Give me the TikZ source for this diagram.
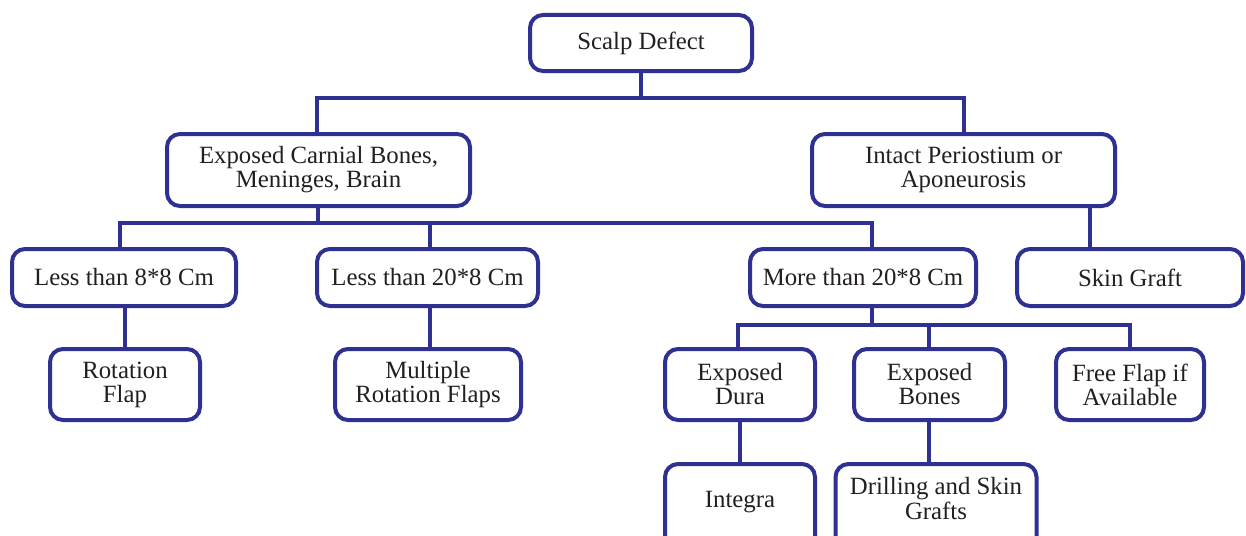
\documentclass[tikz,border=0pt]{standalone}
\usepackage{fontspec}
\setmainfont{Liberation Serif}
\definecolor{navy}{RGB}{46,49,146}
\definecolor{ink}{RGB}{35,31,32}
\begin{document}
\begin{tikzpicture}[x=1pt,y=-1pt,
  box/.style={draw=navy, line width=4pt, rounded corners=13pt, fill=white,
    align=center, inner sep=0pt, text=ink,
    font=\fontsize{24.8}{24}\selectfont},
  link/.style={draw=navy, line width=4pt}]
\useasboundingbox (0,0) rectangle (1246,535);
\clip (0,0) rectangle (1246,535);

% bus levels
\coordinate (busA) at (0,98);
\coordinate (busB) at (0,223);
\coordinate (busC) at (0,325);

% boxes
\node[box, minimum width=222pt, minimum height=56pt] (sd)  at (641,43)     {Scalp Defect};
\node[box, minimum width=303pt, minimum height=72pt] (ecb) at (318.5,170)  {Exposed Carnial Bones,\\Meninges, Brain};
\node[box, minimum width=303pt, minimum height=72pt] (ip)  at (963.5,170)  {Intact Periostium or\\Aponeurosis};
\node[box, minimum width=224pt, minimum height=57pt] (l88) at (124,277.5)  {Less than 8*8 Cm};
\node[box, minimum width=221pt, minimum height=57pt] (l208) at (427.5,277.5) {Less than 20*8 Cm};
\node[box, minimum width=226pt, minimum height=57pt] (m208) at (863,277.5) {More than 20*8 Cm};
\node[box, minimum width=226pt, minimum height=57pt] (sg)  at (1130,277.5) {Skin Graft};
\node[box, minimum width=150pt, minimum height=71pt] (rf)  at (125,384.5)  {Rotation\\Flap};
\node[box, minimum width=186pt, minimum height=71pt] (mrf) at (428,384.5)  {Multiple\\Rotation Flaps};
\node[box, minimum width=150pt, minimum height=71pt] (ed)  at (740,384.5)  {Exposed\\Dura};
\node[box, minimum width=151pt, minimum height=71pt] (eb)  at (929.5,384.5) {Exposed\\Bones};
\node[box, minimum width=148pt, minimum height=71pt] (ff)  at (1130,384.5) {Free Flap if\\Available};
% the last row runs past the lower edge of the page
\node[box, minimum width=150pt, minimum height=86pt] (int) at (740,507)
  {\raisebox{0pt}[0pt][0pt]{Integra}};
\node[box, minimum width=201pt, minimum height=86pt] (dr)  at (936,507)
  {\raisebox{-1.4pt}[0pt][0pt]{\begin{tabular}{@{}c@{}}Drilling and Skin\\Grafts\end{tabular}}};

% top level
\draw[link] (sd.south) -- (sd.south |- busA);
\draw[link] ([xshift=-1.5pt]ecb.north) -- ([xshift=-1.5pt]ecb.north |- busA)
  -- (ip.north |- busA) -- (ip.north);

% second level
\draw[link] ([xshift=-0.5pt]ecb.south) -- ([xshift=-0.5pt]ecb.south |- busB);
\draw[link] ([xshift=-4pt]l88.north) -- ([xshift=-4pt]l88.north |- busB)
  -- ([xshift=9pt]m208.north |- busB) -- ([xshift=9pt]m208.north);
\draw[link] ([xshift=2.5pt]l208.north) -- ([xshift=2.5pt]l208.north |- busB);
\draw[link] ([xshift=-40pt]sg.north) -- ([xshift=-40pt]sg.north |- ip.south);

% third level
\draw[link] ([xshift=1pt]l88.south) -- ([xshift=1pt]l88.south |- rf.north);
\draw[link] ([xshift=2.5pt]l208.south) -- ([xshift=2.5pt]l208.south |- mrf.north);
\draw[link] ([xshift=9pt]m208.south) -- ([xshift=9pt]m208.south |- busC);
\draw[link] ([xshift=-2pt]ed.north) -- ([xshift=-2pt]ed.north |- busC)
  -- (ff.north |- busC) -- (ff.north);
\draw[link] ([xshift=-0.5pt]eb.north) -- ([xshift=-0.5pt]eb.north |- busC);

% fourth level
\draw[link] (ed.south) -- (int.north);
\draw[link] ([xshift=-0.5pt]eb.south) -- ([xshift=-0.5pt]eb.south |- dr.north);
\end{tikzpicture}
\end{document}
